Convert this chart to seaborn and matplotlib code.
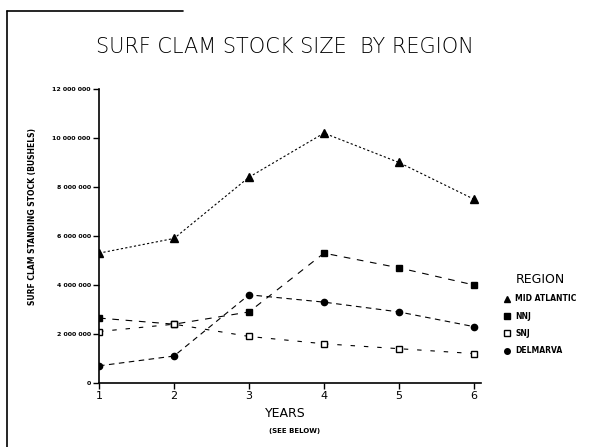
import matplotlib
matplotlib.use("Agg")
import matplotlib.pyplot as plt
from matplotlib.lines import Line2D
import seaborn as sns
import pandas as pd

# Survey years and stock estimates (millions of bushels) by region
years = [1, 2, 3, 4, 5, 6]
mid_atlantic = [5.3, 5.9, 8.4, 10.2, 9.0, 7.5]
nnj = [2.65, 2.4, 2.9, 5.3, 4.7, 4.0]
snj = [2.1, 2.4, 1.9, 1.6, 1.4, 1.2]
delmarva = [0.7, 1.1, 3.6, 3.3, 2.9, 2.3]

regions = ["MID ATLANTIC", "NNJ", "SNJ", "DELMARVA"]
y_ticks = [0, 2, 4, 6, 8, 10, 12]
y_tick_labels = ["0", "2 000 000", "4 000 000", "6 000 000",
                 "8 000 000", "10 000 000", "12 000 000"]

df = pd.DataFrame({
    "year": years * 4,
    "stock": mid_atlantic + nnj + snj + delmarva,
    "region": [r for r in regions for _ in years],
})

sns.set_style("white")
plt.rcParams.update({
    "font.family": ["DejaVu Sans"],
    "text.color": "black",
    "axes.labelcolor": "black",
    "xtick.color": "black",
    "ytick.color": "black",
})

fig = plt.figure(figsize=(6.09, 4.47), dpi=100)
ax = fig.add_axes([0.1626, 0.1432, 0.628, 0.6577])

styles = {
    "MID ATLANTIC": dict(marker="^", mfc="black", ls=(0, (2, 2)), ms=6),
    "NNJ": dict(marker="s", mfc="black", ls=(0, (6, 6)), ms=5),
    "SNJ": dict(marker="s", mfc="white", ls=(0, (4, 8)), ms=5),
    "DELMARVA": dict(marker="o", mfc="black", ls=(0, (5, 4)), ms=4.5),
}

for reg in regions:
    st = styles[reg]
    sub = df[df["region"] == reg]
    sns.lineplot(data=sub, x="year", y="stock", ax=ax, color="black",
                 linewidth=0.8, linestyle=st["ls"], marker=st["marker"],
                 markersize=st["ms"], markerfacecolor=st["mfc"],
                 markeredgecolor="black", markeredgewidth=1.0,
                 label=reg, legend=False)

ax.set_xlim(1, 6.1)
ax.set_ylim(0, 12)
ax.set_xticks(years)
ax.set_xticklabels([str(y) for y in years], fontsize=8)
ax.set_yticks(y_ticks)
ax.set_yticklabels(y_tick_labels, fontsize=4.5, fontweight="bold")
ax.tick_params(axis="both", direction="out", length=4, width=1, color="black",
               labelcolor="black", left=True, bottom=True, pad=2)
for side in ["top", "right"]:
    ax.spines[side].set_visible(False)
for side in ["left", "bottom"]:
    ax.spines[side].set_color("black")
    ax.spines[side].set_linewidth(1.2)

ax.set_xlabel("")
ax.set_ylabel("")

fig.text(0.468, 0.895, "SURF CLAM STOCK SIZE  BY REGION", ha="center",
         va="center", fontsize=15, fontweight="light", color="black")
fig.text(0.054, 0.515, "SURF CLAM STANDING STOCK (BUSHELS)", rotation=90,
         ha="center", va="center", fontsize=5.5, fontweight="bold",
         color="black")
fig.text(0.468, 0.076, "YEARS", ha="center", va="center", fontsize=9,
         color="black")
fig.text(0.484, 0.036, "(SEE BELOW)", ha="center", va="center",
         fontsize=5, fontweight="bold", color="black")

handles = [Line2D([], [], color="black", linestyle="none",
                  marker=styles[r]["marker"], markersize=4,
                  markerfacecolor=styles[r]["mfc"], markeredgecolor="black")
           for r in regions]
leg = fig.legend(handles, regions, title="REGION", loc="upper left",
                 bbox_to_anchor=(0.815, 0.405), frameon=False, fontsize=5.5,
                 title_fontsize=9, handletextpad=0.6, labelspacing=1.1,
                 handlelength=1.0)
leg.get_title().set_color("black")
for t in leg.get_texts():
    t.set_fontweight("bold")
    t.set_color("black")

# partial page border
fig.add_artist(Line2D([0.012, 0.30], [0.975, 0.975], color="black", lw=1.2))
fig.add_artist(Line2D([0.012, 0.012], [0.0, 0.975], color="black", lw=1.2))

fig.savefig("out.png", dpi=100)
